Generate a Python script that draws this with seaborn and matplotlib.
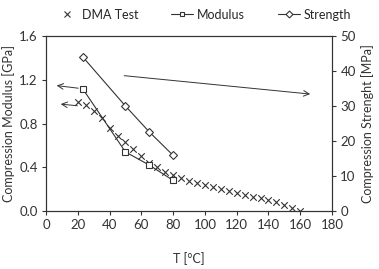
import numpy as np
import pandas as pd
import matplotlib
matplotlib.use("Agg")
import matplotlib.pyplot as plt
import seaborn as sns
from matplotlib.lines import Line2D

# Data
dma_temp = [20, 25, 30, 35, 40, 45, 50, 55, 60, 65, 70, 75, 80, 85, 90, 95, 100,
            105, 110, 115, 120, 125, 130, 135, 140, 145, 150, 155, 160]
dma_modulus = [1.00, 0.97, 0.91, 0.85, 0.76, 0.69, 0.63, 0.57, 0.50, 0.44, 0.40,
               0.355, 0.325, 0.30, 0.275, 0.253, 0.238, 0.222, 0.20, 0.183, 0.162,
               0.146, 0.131, 0.116, 0.10, 0.079, 0.055, 0.03, 0.0]

test_temp = [23, 50, 65, 80]
modulus = [1.12, 0.54, 0.42, 0.28]
strength = [44.1, 30.0, 22.6, 15.9]

x_ticks = [0, 20, 40, 60, 80, 100, 120, 140, 160, 180]
y_ticks = [0.0, 0.4, 0.8, 1.2, 1.6]
y2_ticks = [0, 10, 20, 30, 40, 50]

dma = pd.DataFrame({"T": dma_temp, "E": dma_modulus})
tests = pd.DataFrame({"T": test_temp, "E": modulus, "S": strength})

sns.set_style("ticks")
plt.rcParams["font.family"] = ["Lato", "DejaVu Sans"]
plt.rcParams["font.size"] = 9
ink = "#333333"

fig = plt.figure(figsize=(3.79, 2.69), dpi=100)
ax = fig.add_axes([0.1214, 0.2156, 0.7546, 0.6504])
ax2 = ax.twinx()

sns.scatterplot(x="T", y="E", data=dma, ax=ax, marker="x", color=ink, s=22,
                linewidth=0.8, legend=False, zorder=3)
sns.lineplot(x="T", y="E", data=tests, ax=ax, marker="s", color=ink, lw=0.8,
             markersize=4.5, markerfacecolor="white", markeredgecolor=ink,
             markeredgewidth=0.8, legend=False, zorder=4)
sns.lineplot(x="T", y="S", data=tests, ax=ax2, marker="D", color=ink, lw=0.8,
             markersize=4.5, markerfacecolor="white", markeredgecolor=ink,
             markeredgewidth=0.8, legend=False, zorder=4)

ax.set_xlim(0, 180)
ax.set_ylim(0, 1.6)
ax2.set_ylim(0, 50)
ax.set_xticks(x_ticks)
ax.set_yticks(y_ticks)
ax.set_yticklabels([f"{v:.1f}" for v in y_ticks])
ax2.set_yticks(y2_ticks)

ax.set_xlabel("T [°C]", labelpad=15, color=ink, fontsize=9)
ax.set_ylabel("Compression Modulus [GPa]", labelpad=3, color=ink, fontsize=9)
ax2.set_ylabel("Compression Strenght [MPa]", labelpad=4, color=ink, fontsize=9)

for a in (ax, ax2):
    a.tick_params(direction="out", length=3, width=0.8, colors=ink, labelsize=9.5, pad=3)
    for sp in a.spines.values():
        sp.set_color(ink)
        sp.set_linewidth(0.8)

# arrows pointing to the axis each curve belongs to
arrow = dict(arrowstyle="->", color=ink, lw=0.7, mutation_scale=10)
ax.annotate("", xy=(5, 1.15), xytext=(22, 1.12), arrowprops=arrow)
ax.annotate("", xy=(7.5, 0.98), xytext=(21.5, 0.96), arrowprops=arrow)
ax.annotate("", xy=(168, 1.067), xytext=(47.5, 1.24), arrowprops=arrow)

handles = [
    Line2D([], [], ls="none", marker="x", color=ink, markersize=4, markeredgewidth=0.8),
    Line2D([], [], color=ink, lw=0.8, marker="s", markersize=3.5,
           markerfacecolor="white", markeredgewidth=0.8),
    Line2D([], [], color=ink, lw=0.8, marker="D", markersize=3.5,
           markerfacecolor="white", markeredgewidth=0.8),
]
fig.legend(handles, ["DMA Test", "Modulus", "Strength"], loc="upper center",
           bbox_to_anchor=(0.537, 1.01), ncol=3, frameon=False, fontsize=9,
           handlelength=1.8, handletextpad=0.3, columnspacing=2.6)

fig.savefig("out.png", dpi=100)
